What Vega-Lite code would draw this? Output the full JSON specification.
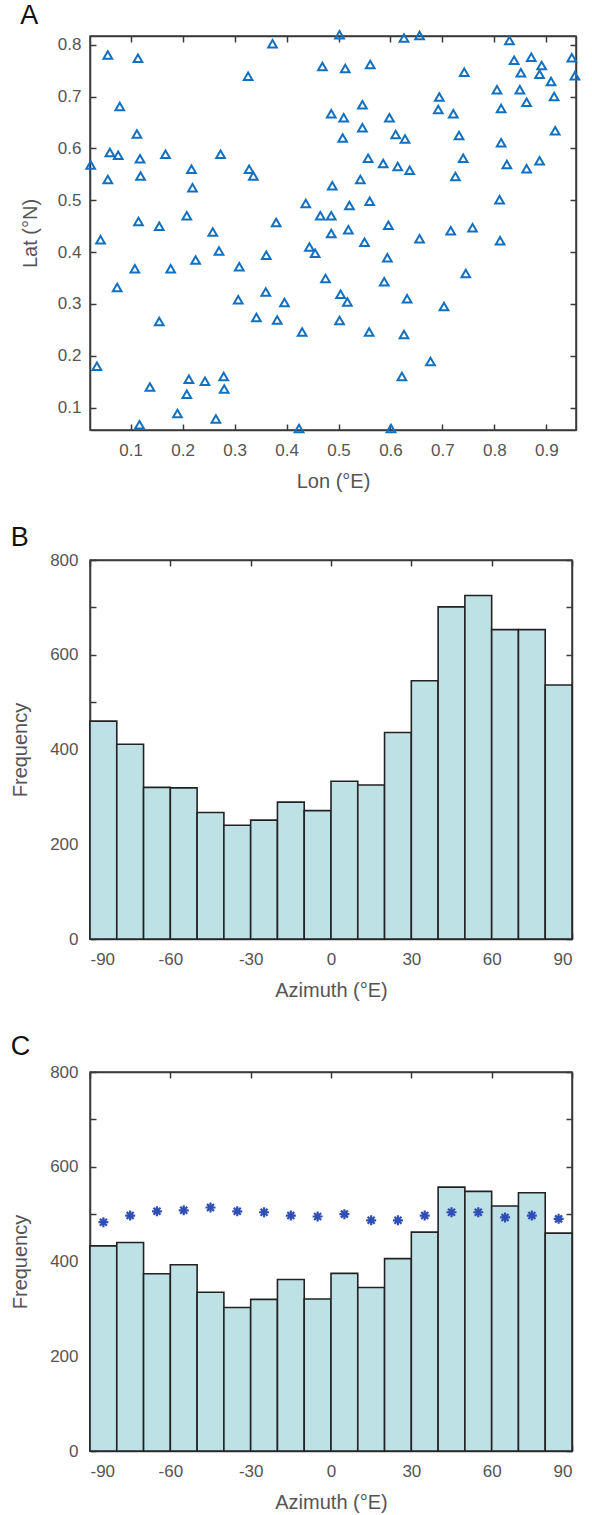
{
  "$schema": "https://vega.github.io/schema/vega-lite/v6.json",
  "background": "white",
  "padding": {"left": 9, "top": 1, "right": 5, "bottom": 5},
  "spacing": 31,
  "datasets": {
    "pts": [
      {"lon":0.023,"lat":0.568},{"lon":0.056,"lat":0.780},{"lon":0.114,"lat":0.774},{"lon":0.079,"lat":0.681},
      {"lon":0.112,"lat":0.628},{"lon":0.060,"lat":0.592},{"lon":0.076,"lat":0.587},{"lon":0.118,"lat":0.580},
      {"lon":0.167,"lat":0.589},{"lon":0.273,"lat":0.589},{"lon":0.056,"lat":0.540},{"lon":0.119,"lat":0.547},
      {"lon":0.217,"lat":0.560},{"lon":0.219,"lat":0.524},{"lon":0.328,"lat":0.560},{"lon":0.336,"lat":0.547},
      {"lon":0.326,"lat":0.739},{"lon":0.373,"lat":0.802},{"lon":0.115,"lat":0.459},{"lon":0.155,"lat":0.450},
      {"lon":0.208,"lat":0.470},{"lon":0.258,"lat":0.439},{"lon":0.380,"lat":0.457},{"lon":0.042,"lat":0.424},
      {"lon":0.270,"lat":0.402},{"lon":0.225,"lat":0.385},{"lon":0.108,"lat":0.368},{"lon":0.177,"lat":0.368},
      {"lon":0.309,"lat":0.372},{"lon":0.361,"lat":0.394},{"lon":0.074,"lat":0.332},{"lon":0.307,"lat":0.308},
      {"lon":0.360,"lat":0.323},{"lon":0.396,"lat":0.303},{"lon":0.155,"lat":0.266},{"lon":0.342,"lat":0.274},
      {"lon":0.382,"lat":0.269},{"lon":0.035,"lat":0.180},{"lon":0.137,"lat":0.140},{"lon":0.212,"lat":0.155},
      {"lon":0.243,"lat":0.151},{"lon":0.279,"lat":0.160},{"lon":0.280,"lat":0.136},{"lon":0.208,"lat":0.126},
      {"lon":0.190,"lat":0.089},{"lon":0.264,"lat":0.078},{"lon":0.117,"lat":0.067},{"lon":0.424,"lat":0.060},
      {"lon":0.430,"lat":0.246},{"lon":0.502,"lat":0.819},{"lon":0.626,"lat":0.813},{"lon":0.656,"lat":0.818},
      {"lon":0.829,"lat":0.808},{"lon":0.469,"lat":0.758},{"lon":0.513,"lat":0.754},{"lon":0.561,"lat":0.762},
      {"lon":0.742,"lat":0.747},{"lon":0.838,"lat":0.770},{"lon":0.871,"lat":0.776},{"lon":0.891,"lat":0.760},
      {"lon":0.851,"lat":0.746},{"lon":0.887,"lat":0.743},{"lon":0.949,"lat":0.775},{"lon":0.955,"lat":0.740},
      {"lon":0.909,"lat":0.729},{"lon":0.805,"lat":0.713},{"lon":0.849,"lat":0.713},{"lon":0.915,"lat":0.700},
      {"lon":0.694,"lat":0.699},{"lon":0.692,"lat":0.675},{"lon":0.721,"lat":0.667},{"lon":0.813,"lat":0.677},
      {"lon":0.862,"lat":0.689},{"lon":0.486,"lat":0.667},{"lon":0.510,"lat":0.659},{"lon":0.546,"lat":0.684},
      {"lon":0.598,"lat":0.659},{"lon":0.546,"lat":0.640},{"lon":0.508,"lat":0.620},{"lon":0.610,"lat":0.627},
      {"lon":0.628,"lat":0.618},{"lon":0.732,"lat":0.625},{"lon":0.917,"lat":0.634},{"lon":0.813,"lat":0.611},
      {"lon":0.557,"lat":0.581},{"lon":0.586,"lat":0.571},{"lon":0.614,"lat":0.565},{"lon":0.637,"lat":0.558},
      {"lon":0.740,"lat":0.581},{"lon":0.824,"lat":0.569},{"lon":0.862,"lat":0.561},{"lon":0.887,"lat":0.576},
      {"lon":0.542,"lat":0.540},{"lon":0.725,"lat":0.546},{"lon":0.488,"lat":0.528},{"lon":0.437,"lat":0.494},
      {"lon":0.521,"lat":0.490},{"lon":0.560,"lat":0.498},{"lon":0.810,"lat":0.501},{"lon":0.465,"lat":0.470},
      {"lon":0.486,"lat":0.470},{"lon":0.486,"lat":0.436},{"lon":0.519,"lat":0.443},{"lon":0.596,"lat":0.452},
      {"lon":0.550,"lat":0.419},{"lon":0.656,"lat":0.426},{"lon":0.716,"lat":0.441},{"lon":0.758,"lat":0.447},
      {"lon":0.811,"lat":0.422},{"lon":0.444,"lat":0.410},{"lon":0.455,"lat":0.398},{"lon":0.594,"lat":0.389},
      {"lon":0.475,"lat":0.349},{"lon":0.588,"lat":0.343},{"lon":0.745,"lat":0.359},{"lon":0.504,"lat":0.319},
      {"lon":0.517,"lat":0.304},{"lon":0.632,"lat":0.310},{"lon":0.703,"lat":0.295},{"lon":0.502,"lat":0.268},
      {"lon":0.559,"lat":0.246},{"lon":0.626,"lat":0.241},{"lon":0.677,"lat":0.189},{"lon":0.622,"lat":0.160},
      {"lon":0.601,"lat":0.060}
    ],
    "histB": [
      {"lo":-90,"hi":-80,"count":460},{"lo":-80,"hi":-70,"count":411},{"lo":-70,"hi":-60,"count":320},
      {"lo":-60,"hi":-50,"count":319},{"lo":-50,"hi":-40,"count":267},{"lo":-40,"hi":-30,"count":240},
      {"lo":-30,"hi":-20,"count":251},{"lo":-20,"hi":-10,"count":289},{"lo":-10,"hi":0,"count":271},
      {"lo":0,"hi":10,"count":333},{"lo":10,"hi":20,"count":325},{"lo":20,"hi":30,"count":436},
      {"lo":30,"hi":40,"count":545},{"lo":40,"hi":50,"count":701},{"lo":50,"hi":60,"count":725},
      {"lo":60,"hi":70,"count":653},{"lo":70,"hi":80,"count":653},{"lo":80,"hi":90,"count":536}
    ],
    "histC": [
      {"lo":-90,"hi":-80,"count":433,"az":-85,"star":483},{"lo":-80,"hi":-70,"count":440,"az":-75,"star":497},
      {"lo":-70,"hi":-60,"count":374,"az":-65,"star":506},{"lo":-60,"hi":-50,"count":393,"az":-55,"star":508},
      {"lo":-50,"hi":-40,"count":335,"az":-45,"star":514},{"lo":-40,"hi":-30,"count":303,"az":-35,"star":506},
      {"lo":-30,"hi":-20,"count":320,"az":-25,"star":504},{"lo":-20,"hi":-10,"count":362,"az":-15,"star":497},
      {"lo":-10,"hi":0,"count":321,"az":-5,"star":495},{"lo":0,"hi":10,"count":375,"az":5,"star":500},
      {"lo":10,"hi":20,"count":345,"az":15,"star":487},{"lo":20,"hi":30,"count":406,"az":25,"star":487},
      {"lo":30,"hi":40,"count":462,"az":35,"star":497},{"lo":40,"hi":50,"count":557,"az":45,"star":504},
      {"lo":50,"hi":60,"count":548,"az":55,"star":504},{"lo":60,"hi":70,"count":517,"az":65,"star":493},
      {"lo":70,"hi":80,"count":545,"az":75,"star":497},{"lo":80,"hi":90,"count":460,"az":85,"star":490}
    ]
  },
  "vconcat": [
    {
      "title": {"text": "A", "offset": -3},
      "width": 486,
      "height": 394,
      "data": {"name": "pts"},
      "layer": [
        {
          "mark": {"type": "point", "shape": "triangle-up", "filled": false, "strokeWidth": 2, "size": 75, "color": "#1270c0", "opacity": 1, "clip": false},
          "encoding": {
            "x": {"field": "lon", "type": "quantitative", "scale": {"domain": [0.0217, 0.9571], "nice": false, "zero": false},
                  "axis": {"orient": "bottom", "title": "Lon (°E)", "values": [0.1,0.2,0.3,0.4,0.5,0.6,0.7,0.8,0.9], "format": ".1f"}},
            "y": {"field": "lat", "type": "quantitative", "scale": {"domain": [0.057, 0.8168], "nice": false, "zero": false},
                  "axis": {"orient": "left", "title": "Lat (°N)", "values": [0.1,0.2,0.3,0.4,0.5,0.6,0.7,0.8], "format": ".1f", "labelPadding": 15, "titlePadding": 17}}
          }
        },
        {
          "mark": {"type": "point", "opacity": 0},
          "encoding": {
            "x": {"field": "lon", "type": "quantitative", "axis": {"orient": "top", "title": null, "labels": false, "values": [0.1,0.2,0.3,0.4,0.5,0.6,0.7,0.8,0.9]}},
            "y": {"field": "lat", "type": "quantitative", "axis": {"orient": "right", "title": null, "labels": false, "values": [0.1,0.2,0.3,0.4,0.5,0.6,0.7,0.8]}}
          }
        }
      ],
      "resolve": {"axis": {"x": "independent", "y": "independent"}}
    },
    {
      "title": {"text": "B", "offset": -1},
      "width": 482,
      "height": 379,
      "data": {"name": "histB"},
      "layer": [
        {
          "mark": {"type": "rect", "fill": "#bee1e6", "stroke": "#222222", "strokeWidth": 1.6},
          "encoding": {
            "x": {"field": "lo", "type": "quantitative", "scale": {"domain": [-90, 90], "nice": false, "zero": false},
                  "axis": {"orient": "bottom", "title": "Azimuth (°E)", "values": [-90,-60,-30,0,30,60,90], "labelExpr": "toString(datum.value)"}},
            "x2": {"field": "hi"},
            "y": {"field": "count", "type": "quantitative", "scale": {"domain": [0, 800], "nice": false},
                  "axis": {"orient": "left", "title": "Frequency", "values": [0,100,200,300,400,500,600,700,800], "labelExpr": "datum.value % 200 === 0 ? datum.label : ''", "labelPadding": 18, "titlePadding": 19}},
            "y2": {"datum": 0}
          }
        },
        {
          "mark": {"type": "point", "opacity": 0},
          "encoding": {
            "x": {"field": "lo", "type": "quantitative", "axis": {"orient": "top", "title": null, "labels": false, "values": [-90,-60,-30,0,30,60,90]}},
            "y": {"field": "count", "type": "quantitative", "axis": {"orient": "right", "title": null, "labels": false, "values": [0,100,200,300,400,500,600,700,800]}}
          }
        }
      ],
      "resolve": {"axis": {"x": "independent", "y": "independent"}}
    },
    {
      "title": {"text": "C", "offset": 2},
      "width": 482,
      "height": 379,
      "data": {"name": "histC"},
      "layer": [
        {
          "mark": {"type": "rect", "fill": "#bee1e6", "stroke": "#222222", "strokeWidth": 1.6},
          "encoding": {
            "x": {"field": "lo", "type": "quantitative", "scale": {"domain": [-90, 90], "nice": false, "zero": false},
                  "axis": {"orient": "bottom", "title": "Azimuth (°E)", "values": [-90,-60,-30,0,30,60,90], "labelExpr": "toString(datum.value)"}},
            "x2": {"field": "hi"},
            "y": {"field": "count", "type": "quantitative", "scale": {"domain": [0, 800], "nice": false},
                  "axis": {"orient": "left", "title": "Frequency", "values": [0,100,200,300,400,500,600,700,800], "labelExpr": "datum.value % 200 === 0 ? datum.label : ''", "labelPadding": 18, "titlePadding": 19}},
            "y2": {"datum": 0}
          }
        },
        {
          "mark": {"type": "point", "shape": "M-1,0H1M0,-1V1M-0.7,-0.7L0.7,0.7M-0.7,0.7L0.7,-0.7", "filled": false, "stroke": "#2f4fb5", "strokeWidth": 2.2, "size": 100, "opacity": 1},
          "encoding": {
            "x": {"field": "az", "type": "quantitative", "axis": {"orient": "top", "title": null, "labels": false, "values": [-90,-60,-30,0,30,60,90]}},
            "y": {"field": "star", "type": "quantitative", "axis": {"orient": "right", "title": null, "labels": false, "values": [0,100,200,300,400,500,600,700,800]}}
          }
        }
      ],
      "resolve": {"axis": {"x": "independent", "y": "independent"}}
    }
  ],
  "config": {
    "view": {"stroke": "#3a3a3a", "strokeWidth": 1.5},
    "axis": {
      "grid": false,
      "domainColor": "#3a3a3a", "domainWidth": 1.5,
      "tickColor": "#3a3a3a", "tickWidth": 1.5, "tickSize": -6,
      "labelPadding": 18, "labelFontSize": 17, "labelColor": "#555555", "labelFont": "Liberation Sans",
      "titleFont": "Liberation Sans", "titleFontSize": 20, "titleFontWeight": "normal", "titleColor": "#555555",
      "titlePadding": 13
    },
    "title": {"fontSize": 27, "fontWeight": "normal", "font": "Liberation Sans", "anchor": "start", "frame": "bounds", "color": "#111111"}
  }
}
